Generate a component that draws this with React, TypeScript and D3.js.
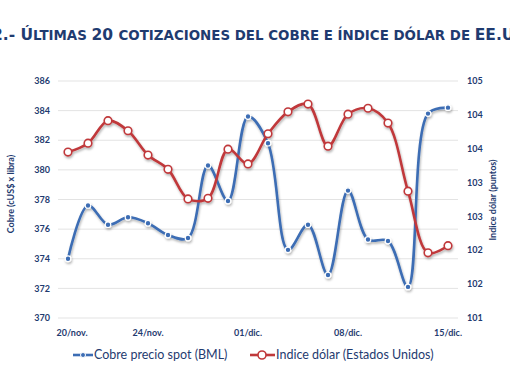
import React from "react";
import * as d3 from "d3";

const dates = [
  "20/nov.", "21/nov.", "22/nov.", "23/nov.", "24/nov.", "25/nov.", "26/nov.", "27/nov.", "28/nov.",
  "01/dic.", "02/dic.", "03/dic.", "04/dic.", "05/dic.", "08/dic.", "09/dic.", "10/dic.", "11/dic.", "12/dic.", "15/dic.",
];
const shownDates = ["20/nov.", "24/nov.", "01/dic.", "08/dic.", "15/dic."];
const copper = [374.0, 377.6, 376.3, 376.8, 376.4, 375.6, 375.4, 380.3, 377.9, 383.6, 381.8, 374.6, 376.3, 372.9, 378.6, 375.3, 375.2, 372.1, 383.8, 384.2];
const dollar = [103.8, 103.95, 104.33, 104.16, 103.75, 103.51, 103.01, 103.02, 103.85, 103.6, 104.11, 104.48, 104.61, 103.9, 104.44, 104.54, 104.29, 103.14, 102.1, 102.22];
const leftTicks = [370, 372, 374, 376, 378, 380, 382, 384, 386];
const rightTicks = [101, 101 + 4 / 7, 101 + 8 / 7, 101 + 12 / 7, 101 + 16 / 7, 101 + 20 / 7, 101 + 24 / 7, 105];

const seriesNames = ["Cobre precio spot (BML)", "Indice dólar (Estados Unidos)"];
const titleParts: [string, boolean][] = [
  ["2.- Ú", true], ["LTIMAS ", false], ["20 ", true], ["COTIZACIONES DEL COBRE E ÍNDICE DÓLAR DE ", false], ["EE.UU.", true],
];

const W = 510, H = 382;
const L = 58, R = 458, T = 81, B = 318;
const BLUE = "#3c6db4";
const RED = "#c0393b";
const NAVY = "#1f3b70";
const AXF = "Lato, 'DejaVu Sans', sans-serif";

export default function App() {
  const x = d3.scalePoint<string>().domain(dates).range([L, R]).padding(0.5);
  const yL = d3.scaleLinear().domain([370, 386]).range([B, T]);
  const yR = d3.scaleLinear().domain([101, 105]).range([B, T]);
  const curve = d3.curveCatmullRom.alpha(0.5);
  const lineC = d3.line<number>().x((_, i) => x(dates[i])!).y((d) => yL(d)).curve(curve);
  const lineD = d3.line<number>().x((_, i) => x(dates[i])!).y((d) => yR(d)).curve(curve);

  return (
    <svg width={W} height={H} style={{ position: "absolute", left: 0, top: 0, background: "#fff" }}>
      <defs>
        <filter id="sh" x="-5%" y="-5%" width="110%" height="120%">
          <feDropShadow dx="0.8" dy="1.8" stdDeviation="0.9" floodColor="#000" floodOpacity="0.3" />
        </filter>
      </defs>
      <text x={-8} y={40} fill={NAVY} style={{ fontFamily: "'DejaVu Sans', sans-serif", fontWeight: 700 }}>
        {titleParts.map(([t, big], i) => (
          <tspan key={i} fontSize={big ? 15.5 : 13.4}>{t}</tspan>
        ))}
      </text>
      {leftTicks.map((t) => (
        <line key={t} x1={L} x2={R} y1={yL(t)} y2={yL(t)} stroke="#e3e3e3" strokeWidth={1} />
      ))}
      {leftTicks.map((t) => (
        <text key={t} x={50} y={yL(t)} dy="0.35em" textAnchor="end" fontSize={9} fontWeight="bold" fill={NAVY} fontFamily={AXF}>
          {t}
        </text>
      ))}
      {rightTicks.map((t, i) => (
        <text key={i} x={467} y={yR(t)} dy="0.35em" textAnchor="start" fontSize={9} fontWeight="bold" fill={NAVY} fontFamily={AXF}>
          {Math.round(t)}
        </text>
      ))}
      {shownDates.map((d) => (
        <text key={d} x={x(d)! + (d === dates[0] ? 4 : 0)} y={333} dy="0.35em" textAnchor="middle" fontSize={9} fontWeight="bold" fill={NAVY} fontFamily={AXF}>
          {d}
        </text>
      ))}
      <text transform={`translate(14,194) rotate(-90)`} textAnchor="middle" fontSize={9} fontWeight="bold" fill={NAVY} fontFamily={AXF}>
        Cobre (cUS$ x libra)
      </text>
      <text transform={`translate(496,200) rotate(-90)`} textAnchor="middle" fontSize={9} fontWeight="bold" fill={NAVY} fontFamily={AXF}>
        Indice dólar (puntos)
      </text>
      <g filter="url(#sh)">
        <path d={lineC(copper)!} fill="none" stroke={BLUE} strokeWidth={2.6} />
        {copper.map((v, i) => (
          <circle key={i} cx={x(dates[i])} cy={yL(v)} r={2.8} fill={BLUE} stroke="#fff" strokeWidth={1.2} />
        ))}
        <path d={lineD(dollar)!} fill="none" stroke={RED} strokeWidth={2.6} />
        {dollar.map((v, i) => (
          <circle key={i} cx={x(dates[i])} cy={yR(v)} r={3.8} fill="#fff" stroke={RED} strokeWidth={1.6} />
        ))}
      </g>
      <g fontFamily={AXF} fontSize={12.5} fill={NAVY}>
        <line x1={73} x2={93} y1={355} y2={355} stroke={BLUE} strokeWidth={2.6} />
        <circle cx={83} cy={355} r={2.5} fill={BLUE} stroke="#fff" strokeWidth={1} />
        <text x={94} y={355} dy="0.35em">{seriesNames[0]}</text>
        <line x1={250} x2={275} y1={355} y2={355} stroke={RED} strokeWidth={2.6} />
        <circle cx={262} cy={355} r={4} fill="#fff" stroke={RED} strokeWidth={1.6} />
        <text x={276} y={355} dy="0.35em">{seriesNames[1]}</text>
      </g>
    </svg>
  );
}
